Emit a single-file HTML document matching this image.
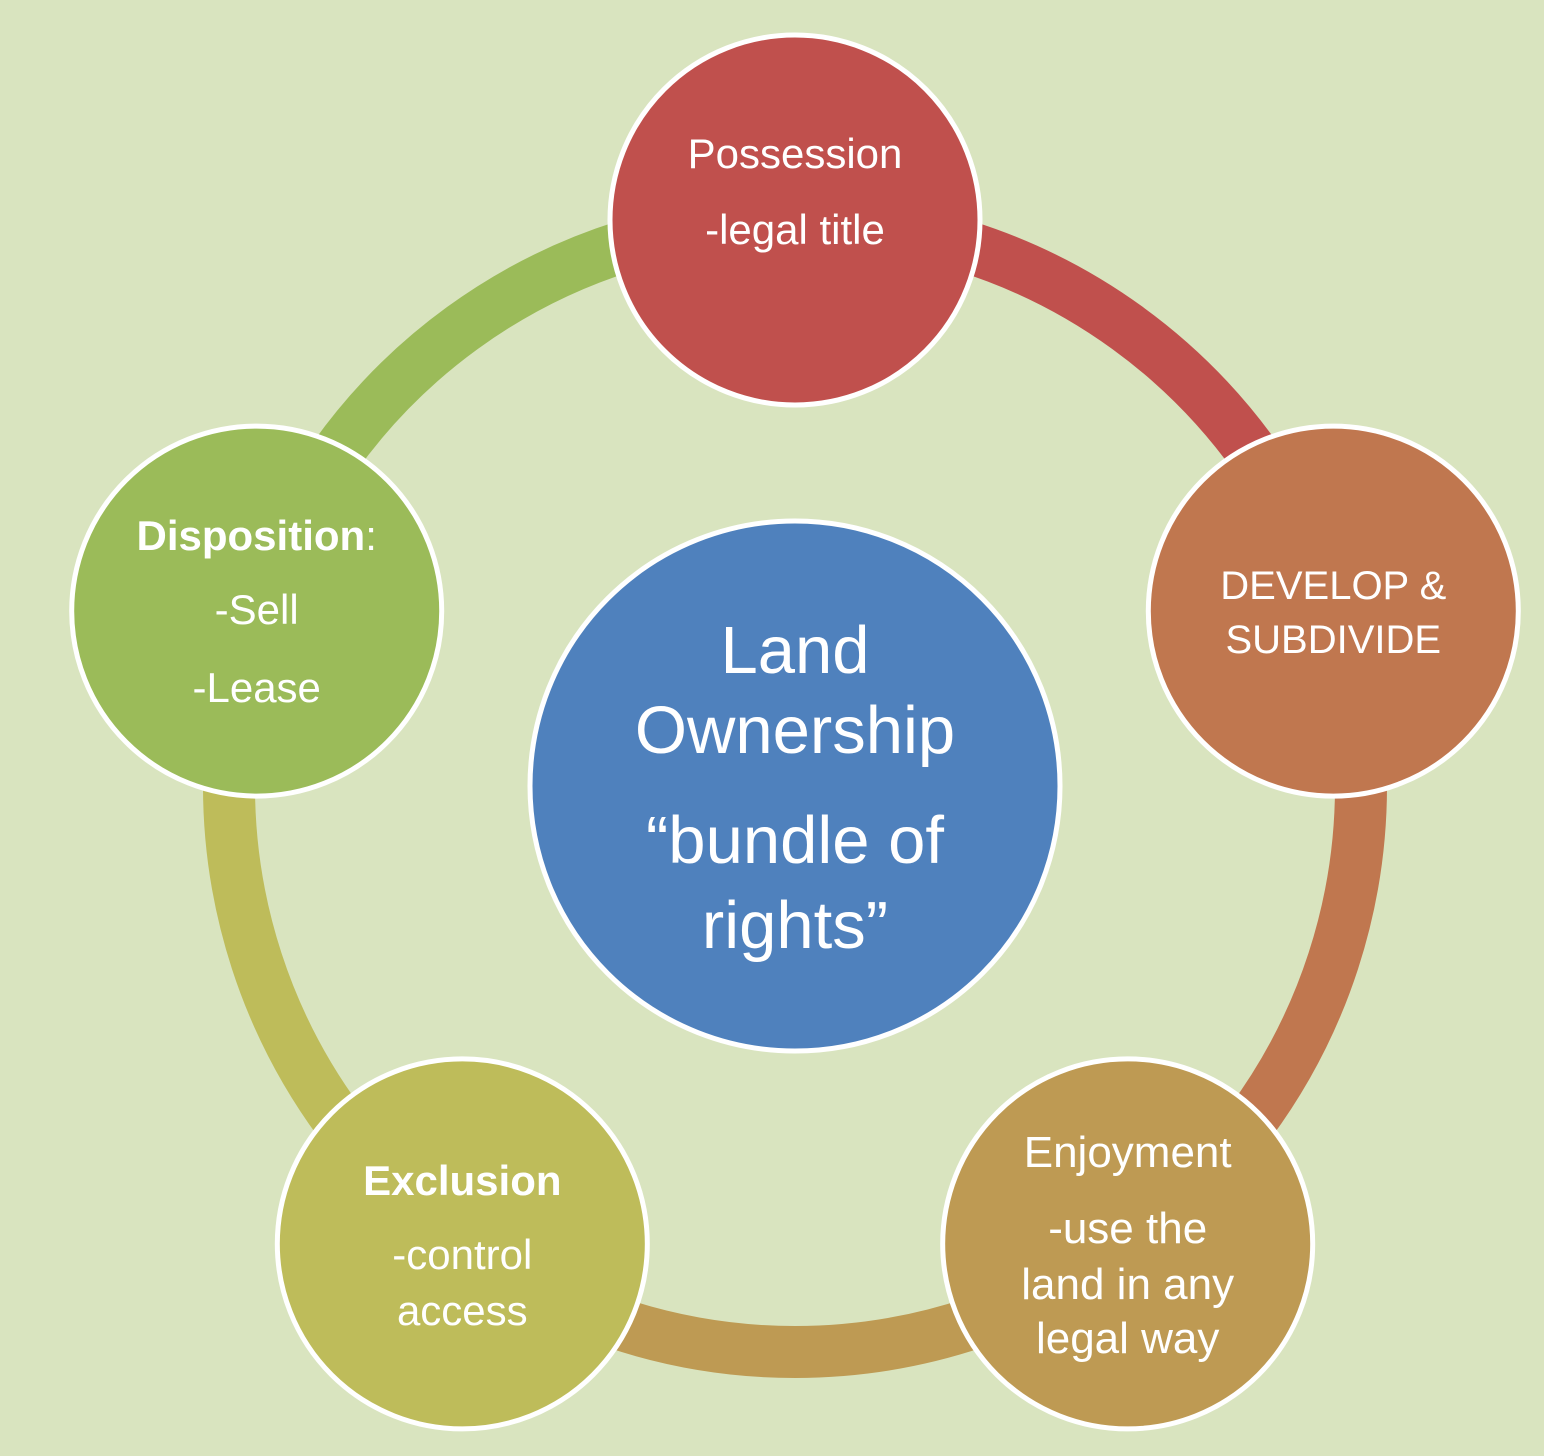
<!DOCTYPE html>
<html><head><meta charset="utf-8">
<style>
html,body{margin:0;padding:0;background:#d9e4bf;}
svg{display:block;}
text{font-family:"Liberation Sans",sans-serif;fill:#fff;text-anchor:middle;}
</style></head>
<body>
<svg id="chart" width="1544" height="1456" viewBox="0 0 1544 1456" xmlns="http://www.w3.org/2000/svg">
<rect width="1544" height="1456" fill="#d9e4bf"/>
<g id="arcs"></g>
<g id="nodes"></g>
</svg>
<script>
const nodeNames = ["possession","develop","enjoyment","exclusion","disposition"];
const nodeAngles = [-90, -18, 54, 126, 198];
const nodeColors = ["#c0504d","#c0774f","#be9a53","#bebc5a","#9bbb59"];
const nodeLines = [
  [["Possession",""],["-legal title",""]],
  [["DEVELOP &",""],["SUBDIVIDE",""]],
  [["Enjoyment",""],["-use the",""],["land in any",""],["legal way",""]],
  [["<tspan font-weight='bold'>Exclusion</tspan>",""],["-control",""],["access",""]],
  [["<tspan font-weight='bold'>Disposition</tspan>:",""],["-Sell",""],["-Lease",""]]
];
const nodeLineY = [
  [153,229],[584,638],[1152,1228,1284,1338],[1180,1254,1310],[535,609,687]
];
const nodeFont = [42,40,44,42,42];
const centerLines = ["Land","Ownership","\u201cbundle of","rights\u201d"];
const centerLineY = [650,730,840,925];

const cx=795, cy=786, R=566, r=185, rc=265;
const NS="http://www.w3.org/2000/svg";
const arcs=document.getElementById('arcs'), nodes=document.getElementById('nodes');
function pt(a){const t=a*Math.PI/180;return [cx+R*Math.cos(t), cy+R*Math.sin(t)];}
for(let i=0;i<5;i++){
  const a0=nodeAngles[i], a1=nodeAngles[(i+1)%5]+(i===4?360:0);
  const p0=pt(a0), p1=pt(a1);
  const p=document.createElementNS(NS,'path');
  p.setAttribute('d',`M${p0[0]},${p0[1]} A${R},${R} 0 0 1 ${p1[0]},${p1[1]}`);
  p.setAttribute('fill','none');p.setAttribute('stroke',nodeColors[i]);p.setAttribute('stroke-width','52');
  
  
  arcs.appendChild(p);
}
const cc=document.createElementNS(NS,'circle');
cc.setAttribute('cx',cx);cc.setAttribute('cy',cy);cc.setAttribute('r',rc);
cc.setAttribute('fill','#4f81bd');cc.setAttribute('stroke','#fff');cc.setAttribute('stroke-width','5');


nodes.appendChild(cc);
centerLines.forEach((s,j)=>{
  const t=document.createElementNS(NS,'text');
  t.setAttribute('x',cx);t.setAttribute('y',centerLineY[j]+23);t.setAttribute('font-size','67');
  t.textContent=s;
  
  
  nodes.appendChild(t);
});
for(let i=0;i<5;i++){
  const p=pt(nodeAngles[i]);
  const c=document.createElementNS(NS,'circle');
  c.setAttribute('cx',p[0]);c.setAttribute('cy',p[1]);c.setAttribute('r',r);
  c.setAttribute('fill',nodeColors[i]);c.setAttribute('stroke','#fff');c.setAttribute('stroke-width','5');
  
  
  nodes.appendChild(c);
  nodeLines[i].forEach((ln,j)=>{
    const t=document.createElementNS(NS,'text');
    t.setAttribute('x',p[0]);t.setAttribute('y',nodeLineY[i][j]+15);
    t.setAttribute('font-size', nodeFont[i]);
    t.innerHTML=ln[0];
    
    
    nodes.appendChild(t);
  });
}
</script>
</body></html>
